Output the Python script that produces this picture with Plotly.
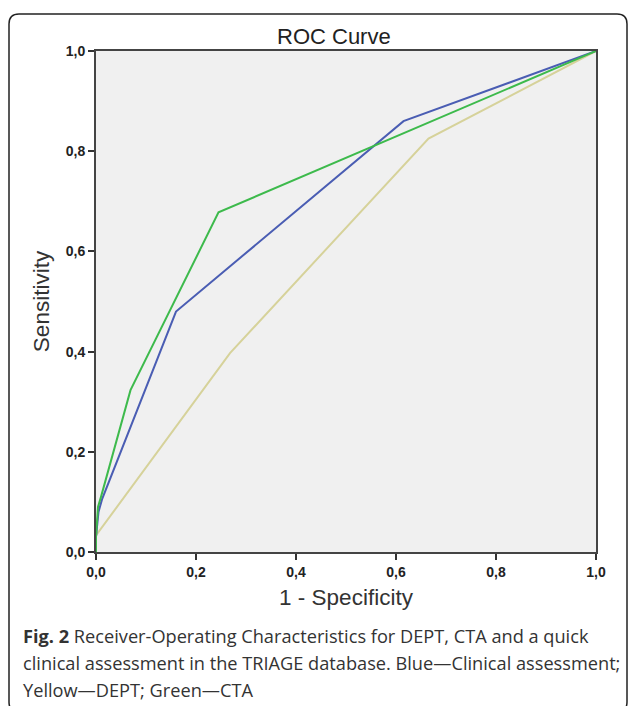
import plotly.graph_objects as go

# Data
blue_x = [0.0, 0.0, 0.005, 0.012, 0.16, 0.615, 1.0]
blue_y = [0.0, 0.03, 0.08, 0.105, 0.48, 0.86, 1.0]

green_x = [0.0, 0.0, 0.004, 0.01, 0.069, 0.245, 1.0]
green_y = [0.0, 0.03, 0.09, 0.11, 0.323, 0.678, 1.0]

yellow_x = [0.0, 0.0, 0.268, 0.665, 1.0]
yellow_y = [0.0, 0.033, 0.397, 0.825, 1.0]

tick_vals = [0.0, 0.2, 0.4, 0.6, 0.8, 1.0]
tick_text = ["0,0", "0,2", "0,4", "0,6", "0,8", "1,0"]

caption_lines = [
    "<b>Fig. 2</b> Receiver-Operating Characteristics for DEPT, CTA and a quick",
    "clinical assessment in the TRIAGE database. Blue\u2014Clinical assessment;",
    "Yellow\u2014DEPT; Green\u2014CTA",
]

W, H = 629, 706
L, R, T, B = 96, 596, 51, 552

def px(x):
    return (x - L) / (R - L)

def py(y):
    return (B - y) / (B - T)

fig = go.Figure()
fig.add_trace(go.Scatter(x=yellow_x, y=yellow_y, mode="lines",
                         line=dict(color="#d6d29a", width=2), showlegend=False))
fig.add_trace(go.Scatter(x=blue_x, y=blue_y, mode="lines",
                         line=dict(color="#4a5db3", width=2), showlegend=False))
fig.add_trace(go.Scatter(x=green_x, y=green_y, mode="lines",
                         line=dict(color="#3dba4c", width=2), showlegend=False))

tick_font = dict(family="Liberation Sans, Arial", size=14, color="#222", weight="bold")
title_font = dict(family="Liberation Sans, Arial", size=22.5, color="#333")

axis_common = dict(
    range=[0, 1], tickvals=tick_vals, ticktext=tick_text,
    ticks="outside", ticklen=6, tickwidth=1.5, tickcolor="#333",
    showline=True, linecolor="#444", linewidth=2, mirror=True,
    showgrid=False, zeroline=False,
    tickfont=tick_font,
)

fig.update_layout(
    width=W, height=H,
    margin=dict(l=L, r=W - R, t=T, b=H - B),
    paper_bgcolor="white", plot_bgcolor="#f0f0f0",
    xaxis=dict(**axis_common,
               title=dict(text="1 - Specificity", standoff=10, font=title_font)),
    yaxis=dict(**axis_common,
               title=dict(text="Sensitivity", standoff=10, font=title_font)),
)

# Title
fig.add_annotation(text="ROC Curve", xref="paper", yref="paper",
                   x=px(334), y=py(37), xanchor="center", yanchor="middle",
                   showarrow=False,
                   font=dict(family="Liberation Sans, Arial", size=22, color="#222"))

# Caption
for i, line in enumerate(caption_lines):
    fig.add_annotation(text=line, xref="paper", yref="paper",
                       x=px(21), y=py(636 + 27 * i), xanchor="left", yanchor="middle",
                       showarrow=False, align="left",
                       font=dict(family="Open Sans", size=18.2, color="#333"))

# Rounded frame around figure
x0, x1 = px(9), px(627)
y0, y1 = py(712), py(14)
rx = 10 / (R - L)
ry = 10 / (B - T)
path = (f"M {x0+rx},{y1} L {x1-rx},{y1} Q {x1},{y1} {x1},{y1-ry} "
        f"L {x1},{y0+ry} Q {x1},{y0} {x1-rx},{y0} L {x0+rx},{y0} "
        f"Q {x0},{y0} {x0},{y0+ry} L {x0},{y1-ry} Q {x0},{y1} {x0+rx},{y1} Z")
fig.add_shape(type="path", path=path, xref="paper", yref="paper",
              line=dict(color="#222", width=1.5), layer="below")

fig.write_html("out.html",
               config={"displayModeBar": False},
               post_script="document.body.style.margin='0';document.body.style.overflow='hidden';")
